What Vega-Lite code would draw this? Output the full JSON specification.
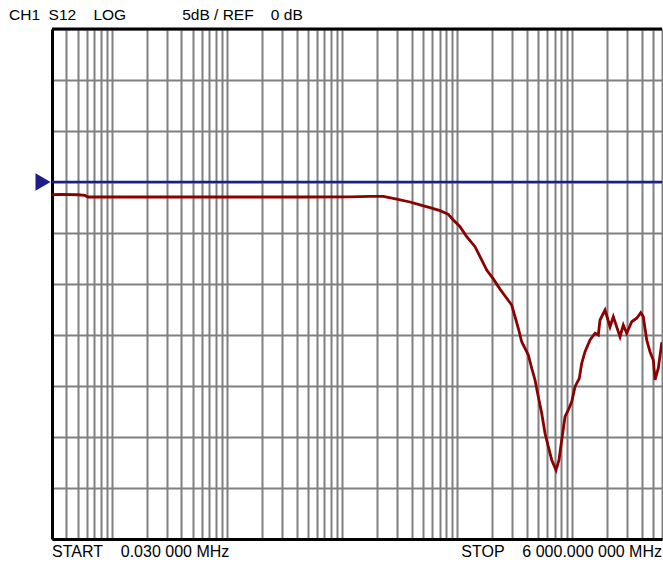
{
  "$schema": "https://vega.github.io/schema/vega-lite/v6.json",
  "autosize": {"type": "none"},
  "width": 610,
  "height": 510,
  "padding": {"left": 52, "top": 29, "right": 1, "bottom": 24},
  "background": "white",
  "config": {"view": {"stroke": null}, "font": "Liberation Sans"},
  "datasets": {
    "trace": [
      {"f": 0.03, "db": -1.25}, {"f": 0.0352, "db": -1.22}, {"f": 0.0505, "db": -1.25}, {"f": 0.058, "db": -1.32},
      {"f": 0.0617, "db": -1.47}, {"f": 0.0784, "db": -1.47}, {"f": 0.58, "db": -1.47}, {"f": 4.29, "db": -1.47},
      {"f": 11.66, "db": -1.45}, {"f": 17.4, "db": -1.4}, {"f": 22.7, "db": -1.4}, {"f": 29.7, "db": -1.67},
      {"f": 38.7, "db": -1.96}, {"f": 47.3, "db": -2.25}, {"f": 57.8, "db": -2.52}, {"f": 70.6, "db": -2.81},
      {"f": 83.4, "db": -3.17}, {"f": 92.2, "db": -3.73}, {"f": 105.4, "db": -4.38}, {"f": 120.5, "db": -5.36},
      {"f": 142.3, "db": -6.34}, {"f": 157.3, "db": -7.32}, {"f": 179.8, "db": -8.63}, {"f": 205.2, "db": -9.5},
      {"f": 234.7, "db": -10.5}, {"f": 268.3, "db": -11.4}, {"f": 296.5, "db": -12.06}, {"f": 316.8, "db": -13.21},
      {"f": 338.4, "db": -14.34}, {"f": 362.2, "db": -15.66}, {"f": 413.3, "db": -16.96}, {"f": 442.6, "db": -18.26},
      {"f": 472.7, "db": -19.41}, {"f": 504.9, "db": -21.05}, {"f": 540.6, "db": -22.68}, {"f": 577.3, "db": -24.64},
      {"f": 616.7, "db": -25.95}, {"f": 660.4, "db": -27.25}, {"f": 719.6, "db": -28.24}, {"f": 764, "db": -27.25},
      {"f": 806.6, "db": -25.29}, {"f": 861.6, "db": -23.01}, {"f": 920.3, "db": -22.35}, {"f": 985.4, "db": -21.54},
      {"f": 1052.6, "db": -20.07}, {"f": 1146.8, "db": -19.25}, {"f": 1203.4, "db": -17.77}, {"f": 1285.7, "db": -16.64},
      {"f": 1420.8, "db": -15.49}, {"f": 1570.5, "db": -14.83}, {"f": 1677.4, "db": -15.0}, {"f": 1735.5, "db": -13.53},
      {"f": 1918.3, "db": -12.55}, {"f": 2120.4, "db": -14.19}, {"f": 2264.7, "db": -13.21}, {"f": 2589.3, "db": -15.17},
      {"f": 2765.7, "db": -14.02}, {"f": 2960.7, "db": -14.83}, {"f": 3273, "db": -13.7}, {"f": 3616.8, "db": -13.36},
      {"f": 3918.6, "db": -12.81}, {"f": 4127, "db": -13.21}, {"f": 4418.4, "db": -15.49}, {"f": 4719, "db": -16.64},
      {"f": 5042, "db": -17.45}, {"f": 5217, "db": -19.41}, {"f": 5573, "db": -18.26}, {"f": 5964, "db": -15.81},
      {"f": 6000, "db": -15.8}
    ]
  },
  "layer": [
    {
      "data": {"name": "trace"},
      "mark": {"type": "line", "color": "#8b0000", "strokeWidth": 2.8, "clip": true},
      "encoding": {
        "x": {
          "field": "f", "type": "quantitative",
          "scale": {"type": "log", "domain": [0.03, 6000], "nice": false},
          "axis": {
            "values": [0.04, 0.05, 0.06, 0.07, 0.08, 0.09, 0.1, 0.2, 0.3, 0.4, 0.5, 0.6, 0.7, 0.8, 0.9, 1, 2, 3, 4, 5, 6, 7, 8, 9, 10, 20, 30, 40, 50, 60, 70, 80, 90, 100, 200, 300, 400, 500, 600, 700, 800, 900, 1000, 2000, 3000, 4000, 5000, 6000],
            "labels": false, "ticks": false, "title": null,
            "grid": true, "gridColor": "#808080", "gridWidth": 2, "gridOpacity": 1,
            "domain": true, "domainColor": "black", "domainWidth": 3
          }
        },
        "y": {
          "field": "db", "type": "quantitative",
          "scale": {"domain": [-35, 15], "nice": false, "zero": false},
          "axis": {
            "values": [-35, -30, -25, -20, -15, -10, -5, 0, 5, 10, 15],
            "labels": false, "ticks": false, "title": null,
            "grid": true, "gridColor": "#808080", "gridWidth": 2, "gridOpacity": 1,
            "domain": true, "domainColor": "black", "domainWidth": 3
          }
        }
      }
    },
    {
      "data": {"values": [{"ref": 0}]},
      "mark": {"type": "rule", "color": "#1c1c8a", "strokeWidth": 2.5},
      "encoding": {"y": {"field": "ref", "type": "quantitative"}}
    },
    {
      "data": {"values": [{"top": 15}]},
      "mark": {"type": "rule", "color": "black", "strokeWidth": 3},
      "encoding": {"y": {"field": "top", "type": "quantitative"}}
    },
    {
      "data": {"values": [{"f": 0.03, "ref": 0}]},
      "mark": {"type": "point", "shape": "triangle-right", "filled": true, "color": "#1c1c8a", "size": 300, "opacity": 1, "xOffset": -9},
      "encoding": {"x": {"field": "f", "type": "quantitative"}, "y": {"field": "ref", "type": "quantitative"}}
    },
    {
      "data": {"values": [{"f": 0.03, "top": 15, "label": "CH1\u00a0\u00a0S12\u00a0\u00a0\u00a0\u00a0LOG\u00a0\u00a0\u00a0\u00a0\u00a0\u00a0\u00a0\u00a0\u00a0\u00a0\u00a0\u00a0\u00a05dB / REF\u00a0\u00a0\u00a0\u00a00 dB"}]},
      "mark": {"type": "text", "align": "left", "baseline": "alphabetic", "dx": -43, "dy": -9, "fontSize": 15.5, "color": "black", "font": "Liberation Sans"},
      "encoding": {"x": {"field": "f", "type": "quantitative"}, "y": {"field": "top", "type": "quantitative"}, "text": {"field": "label"}}
    },
    {
      "data": {"values": [{"f": 0.03, "bottom": -35, "label": "START\u00a0\u00a0\u00a0\u00a00.030 000 MHz"}]},
      "mark": {"type": "text", "align": "left", "baseline": "alphabetic", "dy": 18, "fontSize": 16, "color": "black", "font": "Liberation Sans"},
      "encoding": {"x": {"field": "f", "type": "quantitative"}, "y": {"field": "bottom", "type": "quantitative"}, "text": {"field": "label"}}
    },
    {
      "data": {"values": [{"f": 6000, "bottom": -35, "label": "STOP\u00a0\u00a0\u00a0\u00a06 000.000 000 MHz"}]},
      "mark": {"type": "text", "align": "right", "baseline": "alphabetic", "dy": 18, "fontSize": 16, "color": "black", "font": "Liberation Sans"},
      "encoding": {"x": {"field": "f", "type": "quantitative"}, "y": {"field": "bottom", "type": "quantitative"}, "text": {"field": "label"}}
    }
  ]
}
